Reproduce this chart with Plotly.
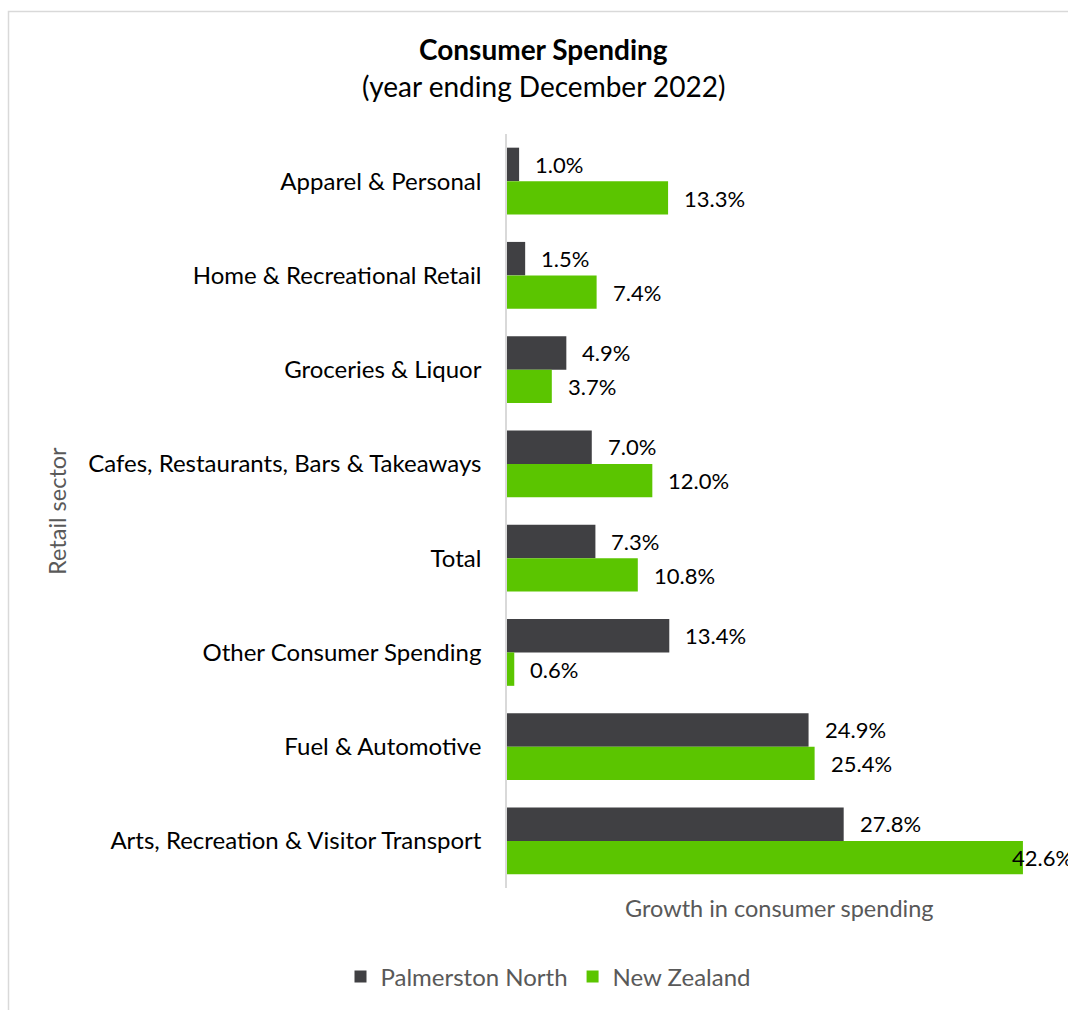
import plotly.graph_objects as go

categories = [
    "Apparel & Personal",
    "Home & Recreational Retail",
    "Groceries & Liquor",
    "Cafes, Restaurants, Bars & Takeaways",
    "Total",
    "Other Consumer Spending",
    "Fuel & Automotive",
    "Arts, Recreation & Visitor Transport",
]
palmerston_north = [1.0, 1.5, 4.9, 7.0, 7.3, 13.4, 24.9, 27.8]
new_zealand = [13.3, 7.4, 3.7, 12.0, 10.8, 0.6, 25.4, 42.6]
series_names = ["Palmerston North", "New Zealand"]
colors = ["#404043", "#5BC500"]

FONT = "Lato"
W, H = 1068, 1010
ML, MR, MT, MB = 507, 16, 134, 122
PW = W - ML - MR
PH = H - MT - MB
XMAX = 45.0


def px_x(p):
    return (p - ML) / PW


def px_y(p):
    return (H - MB - p) / PH


fig = go.Figure()
for name, vals, col in zip(series_names, [palmerston_north, new_zealand], colors):
    fig.add_trace(go.Bar(
        y=categories, x=vals, name=name, orientation="h",
        marker=dict(color=col, line=dict(width=0)),
        hoverinfo="x+y+name",
    ))

annotations = []
label_limit = 41.5  # label start in data units cannot go past chart edge
px_per_unit = PW / XMAX
for vals, ysh in [(palmerston_north, 17), (new_zealand, -17)]:
    for c, v in zip(categories, vals):
        start = v + 14 / px_per_unit
        if start > label_limit:
            xpos, xs = label_limit, 0
        else:
            xpos, xs = v, 14
        annotations.append(dict(
            x=xpos, y=c, xref="x", yref="y", text=f"{v:.1f}%",
            showarrow=False, xanchor="left", yanchor="middle",
            xshift=xs, yshift=ysh,
            font=dict(family=FONT, size=22, color="#000000"),
        ))

annotations += [
    dict(x=px_x(543), y=px_y(49), xref="paper", yref="paper",
         text="<b>Consumer Spending</b>", showarrow=False,
         xanchor="center", yanchor="middle",
         font=dict(family=FONT, size=28, color="#000000")),
    dict(x=px_x(543), y=px_y(86), xref="paper", yref="paper",
         text="(year ending December 2022)", showarrow=False,
         xanchor="center", yanchor="middle",
         font=dict(family=FONT, size=28, color="#000000")),
    dict(x=px_x(57), y=0.5, xref="paper", yref="paper",
         text="Retail sector", showarrow=False, textangle=-90,
         xanchor="center", yanchor="middle",
         font=dict(family=FONT, size=23.5, color="#595959")),
    dict(x=px_x(779), y=px_y(908), xref="paper", yref="paper",
         text="Growth in consumer spending", showarrow=False,
         xanchor="center", yanchor="middle",
         font=dict(family=FONT, size=23.5, color="#595959")),
]

fig.update_layout(
    width=W, height=H,
    margin=dict(l=ML, r=MR, t=MT, b=MB, autoexpand=False),
    paper_bgcolor="white", plot_bgcolor="white",
    barmode="group", bargap=0.29, bargroupgap=0,
    showlegend=True,
    legend=dict(orientation="h", x=px_x(548), y=px_y(977),
                xanchor="center", yanchor="middle",
                font=dict(family=FONT, size=24, color="#595959"),
                itemsizing="constant", traceorder="normal",
                itemwidth=30),
    xaxis=dict(range=[0, XMAX], showgrid=False, showticklabels=False,
               zeroline=False, showline=False, ticks=""),
    yaxis=dict(categoryorder="array", categoryarray=categories,
               autorange="reversed", showgrid=False, zeroline=False,
               showline=True, linecolor="#D9D9D9", linewidth=1.5,
               ticks="", ticklabelstandoff=19,
               tickfont=dict(family=FONT, size=24, color="#000000")),
    annotations=annotations,
    shapes=[dict(type="rect", xref="paper", yref="paper",
                 x0=px_x(8.5), x1=px_x(1078), y0=px_y(1015), y1=px_y(11.5),
                 line=dict(color="#D9D9D9", width=1.5), layer="below")],
    font=dict(family=FONT),
)

fig.write_html("out.html", config={"displayModeBar": False},
               post_script="document.body.style.margin='0px';")
